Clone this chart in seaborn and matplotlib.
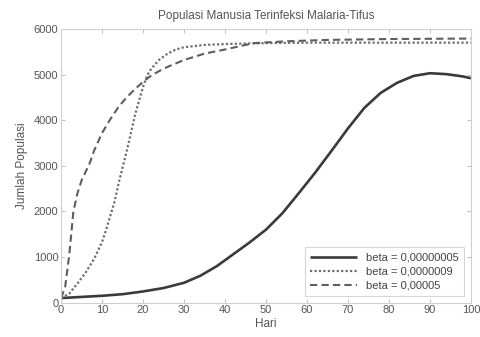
import matplotlib
matplotlib.use("Agg")
import matplotlib.pyplot as plt
import seaborn as sns
import pandas as pd

# Infected human population over time for three transmission rates
hari_a = [0, 5, 10, 15, 20, 25, 30, 34, 38, 42, 46, 50, 54, 58, 62, 66, 70, 74, 78, 82, 86, 90, 94, 98, 100]
pop_a = [100, 125, 150, 185, 245, 320, 435, 590, 800, 1060, 1320, 1600, 1960, 2400, 2850, 3330,
         3820, 4270, 4600, 4820, 4970, 5030, 5010, 4960, 4920]

hari_b = [0, 2, 4, 6, 8, 10, 11, 12, 13, 14, 15, 16, 17, 18, 19, 20, 21, 22, 24, 26, 28, 30, 35, 40,
          50, 60, 80, 100]
pop_b = [100, 200, 420, 660, 950, 1330, 1600, 1900, 2200, 2600, 2960, 3320, 3700, 4100, 4420, 4730,
         4980, 5130, 5330, 5460, 5550, 5600, 5650, 5670, 5690, 5700, 5700, 5700]

hari_c = [0, 1, 2, 3, 4, 5, 6, 7, 8, 10, 12, 14, 16, 18, 20, 22, 24, 26, 30, 35, 40, 47, 55, 65, 80, 100]
pop_c = [100, 350, 1050, 2000, 2400, 2680, 2870, 3060, 3320, 3720, 4020, 4290, 4500, 4680, 4840,
         4980, 5080, 5170, 5320, 5460, 5550, 5690, 5730, 5760, 5780, 5790]

labels = ["beta = 0,00000005", "beta = 0,0000009", "beta = 0,00005"]
y_ticks = [0, 1000, 2000, 3000, 4000, 5000, 6000]
x_ticks = [0, 10, 20, 30, 40, 50, 60, 70, 80, 90, 100]

sns.set_theme(style="white")
plt.rcParams["font.family"] = ["Liberation Sans", "DejaVu Sans"]

fig = plt.figure(figsize=(4.81, 3.37), dpi=100)
ax = fig.add_axes([0.127, 0.102, 0.852, 0.812])

styles = [((0, ()), "#3a3a3a", 1.9), ((0, (1, 1)), "#6e6e6e", 1.6), ((0, (3.5, 2)), "#5e5e5e", 1.5)]
for (hx, py, lab), (ls, col, lw) in zip(
        [(hari_a, pop_a, labels[0]), (hari_b, pop_b, labels[1]), (hari_c, pop_c, labels[2])], styles):
    df = pd.DataFrame({"Hari": hx, "Populasi": py})
    sns.lineplot(data=df, x="Hari", y="Populasi", ax=ax, color=col, linestyle=ls,
                 linewidth=lw, label=lab)

ax.set_xlim(0, 100)
ax.set_ylim(0, 6000)
ax.set_xticks(x_ticks)
ax.set_yticks(y_ticks)
ax.tick_params(axis="both", direction="in", length=3, width=0.6, colors="#b5b5b5",
               labelcolor="#555555", labelsize=8, bottom=True, left=True, top=True, right=True,
               pad=2)
for s in ax.spines.values():
    s.set_color("#cfcfcf")
    s.set_linewidth(0.8)

ax.set_xlabel("Hari", fontsize=8.5, color="#555555", labelpad=2)
ax.set_ylabel("Jumlah Populasi", fontsize=8.5, color="#555555", labelpad=4)
ax.set_title("Populasi Manusia Terinfeksi Malaria-Tifus", fontsize=8.5, color="#555555", pad=7)

leg = ax.legend(loc="lower right", fontsize=8, frameon=True, fancybox=False,
                handlelength=4.2, borderaxespad=0.6, labelspacing=0.35, borderpad=0.5)
leg.get_frame().set_edgecolor("#cccccc")
leg.get_frame().set_linewidth(0.8)
for t in leg.get_texts():
    t.set_color("#444444")

fig.savefig("out.png", dpi=100)
